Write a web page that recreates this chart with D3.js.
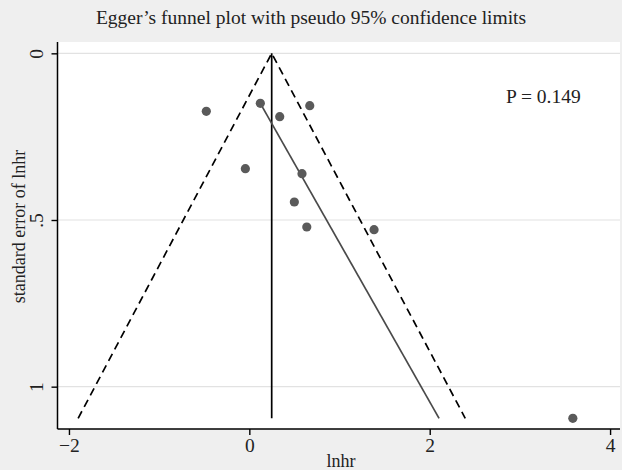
<!DOCTYPE html>
<html>
<head>
<meta charset="utf-8">
<script src="https://cdn.jsdelivr.net/npm/d3@7"></script>
<style>
  body { margin: 0; background: #efefef; }
  text { font-family: "Liberation Serif", "Times New Roman", serif; fill: #222; }
</style>
</head>
<body>
<div id="chart"></div>
<script>
// study estimates
var lnhr = [-0.477, 0.122, 0.670, 0.337, -0.044, 0.584, 0.499, 0.637, 1.383, 3.587];
var seLnhr = [0.174, 0.150, 0.157, 0.190, 0.346, 0.361, 0.446, 0.521, 0.529, 1.095];
var pooled = 0.248;
var seMax = 1.095;
var eggerSe = [0.150, 1.095];
var eggerX = [0.122, 2.104];
var xTicks = [-2, 0, 2, 4];
var yTicks = [0, 0.5, 1];
var yTickLabels = ["0", ".5", "1"];
var pText = "P = 0.149";

var width = 622, height = 470;
var margin = {top: 42, right: 2, bottom: 41, left: 57.5};

var svg = d3.select("#chart").append("svg")
    .attr("width", width)
    .attr("height", height);

svg.append("rect")
    .attr("width", width).attr("height", height)
    .attr("fill", "#efefef");

var x = d3.scaleLinear().domain([-2.127, 4.11])
    .range([margin.left, width - margin.right]);
var y = d3.scaleLinear().domain([-0.034, 1.127])
    .range([margin.top, height - margin.bottom]);

// plot region
svg.append("rect")
    .attr("x", margin.left).attr("y", margin.top)
    .attr("width", width - margin.right - margin.left)
    .attr("height", height - margin.bottom - margin.top)
    .attr("fill", "white");

// gridlines
svg.selectAll(".grid")
    .data(yTicks)
    .enter().append("line")
    .attr("x1", margin.left).attr("x2", width - margin.right)
    .attr("y1", function(d){ return y(d); })
    .attr("y2", function(d){ return y(d); })
    .attr("stroke", "#e2e2e2")
    .attr("stroke-width", 1.2);

// pseudo 95% limits
var funnel = [[pooled - 1.96 * seMax, seMax], [pooled, 0], [pooled + 1.96 * seMax, seMax]];
svg.append("path")
    .attr("d", d3.line().x(function(d){ return x(d[0]); }).y(function(d){ return y(d[1]); })(funnel))
    .attr("fill", "none")
    .attr("stroke", "black")
    .attr("stroke-width", 1.7)
    .attr("stroke-dasharray", "8,5");

// pooled estimate
svg.append("line")
    .attr("x1", x(pooled)).attr("x2", x(pooled))
    .attr("y1", y(0)).attr("y2", y(seMax))
    .attr("stroke", "black")
    .attr("stroke-width", 1.7);

// Egger regression line
svg.append("line")
    .attr("x1", x(eggerX[0])).attr("y1", y(eggerSe[0]))
    .attr("x2", x(eggerX[1])).attr("y2", y(eggerSe[1]))
    .attr("stroke", "#4a4a4a")
    .attr("stroke-width", 1.7);

// studies
svg.selectAll("circle")
    .data(lnhr)
    .enter().append("circle")
    .attr("cx", function(d){ return x(d); })
    .attr("cy", function(d, i){ return y(seLnhr[i]); })
    .attr("r", 4.6)
    .attr("fill", "#5a5a5a");

// axes
var xAxis = svg.append("g")
    .attr("transform", "translate(0," + (height - margin.bottom) + ")")
    .call(d3.axisBottom(x).tickValues(xTicks).tickSize(6)
      .tickFormat(function(d){ return d < 0 ? "\u2212" + Math.abs(d) : d; }));
xAxis.select(".domain").attr("stroke", "black").attr("stroke-width", 1.5)
    .attr("d", "M" + margin.left + ",0H" + (width - margin.right));
xAxis.selectAll(".tick line").attr("stroke", "black").attr("stroke-width", 1.4);
xAxis.selectAll(".tick text")
    .attr("font-family", "Liberation Serif, serif")
    .attr("font-size", 19.5).attr("fill", "#222")
    .attr("y", 23).attr("dy", 0);

var yAxis = svg.append("g")
    .attr("transform", "translate(" + margin.left + ",0)")
    .call(d3.axisLeft(y).tickValues(yTicks).tickSize(6)
      .tickFormat(function(d, i){ return yTickLabels[i]; }));
yAxis.select(".domain").attr("stroke", "black").attr("stroke-width", 1.5)
    .attr("d", "M0," + margin.top + "V" + (height - margin.bottom));
yAxis.selectAll(".tick line").attr("stroke", "black").attr("stroke-width", 1.4);
yAxis.selectAll(".tick text")
    .attr("font-family", "Liberation Serif, serif")
    .attr("font-size", 19.5).attr("fill", "#222")
    .attr("x", 0).attr("dy", 0)
    .attr("text-anchor", "middle")
    .attr("transform", "translate(-15,0) rotate(-90)");

// titles
svg.append("text")
    .attr("x", width / 2).attr("y", 24)
    .attr("text-anchor", "middle")
    .attr("font-size", 19.5)
    .text("Egger\u2019s funnel plot with pseudo 95% confidence limits");

svg.append("text")
    .attr("x", 341).attr("y", 467)
    .attr("text-anchor", "middle")
    .attr("font-size", 18)
    .text("lnhr");

svg.append("text")
    .attr("transform", "translate(25," + ((margin.top + height - margin.bottom) / 2 - 9) + ") rotate(-90)")
    .attr("text-anchor", "middle")
    .attr("font-size", 18)
    .text("standard error of lnhr");

svg.append("text")
    .attr("x", 506).attr("y", 103)
    .attr("font-size", 19.5)
    .text(pText);
</script>
</body>
</html>
